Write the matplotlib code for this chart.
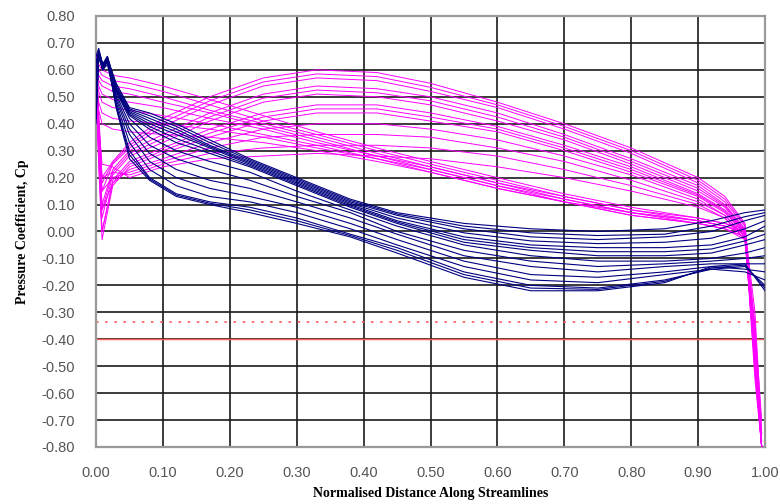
import matplotlib
matplotlib.use("Agg")
import matplotlib.pyplot as plt

# --- streamline data ---
mag_x = [0.0, 0.004, 0.009, 0.025, 0.05, 0.1, 0.17, 0.25, 0.33, 0.42, 0.5,
         0.6, 0.7, 0.8, 0.9, 0.94, 0.97, 0.985, 0.995]

# upper family: rises to a peak around x = 0.3 then falls away
mag_arcs = [
    [0.64, 0.45, 0.20, 0.26, 0.33, 0.42, 0.50, 0.57, 0.60, 0.59, 0.55, 0.48, 0.40, 0.31, 0.20, 0.13, 0.03, -0.40, -0.80],
    [0.635, 0.42, 0.18, 0.255, 0.32, 0.405, 0.485, 0.555, 0.585, 0.575, 0.535, 0.47, 0.39, 0.30, 0.19, 0.12, 0.025, -0.42, -0.80],
    [0.63, 0.40, 0.15, 0.25, 0.31, 0.39, 0.47, 0.54, 0.57, 0.56, 0.52, 0.46, 0.38, 0.29, 0.18, 0.11, 0.02, -0.45, -0.78],
    [0.62, 0.35, 0.10, 0.23, 0.30, 0.36, 0.44, 0.51, 0.54, 0.53, 0.50, 0.44, 0.36, 0.27, 0.17, 0.10, 0.01, -0.50, -0.80],
    [0.61, 0.33, 0.08, 0.22, 0.29, 0.345, 0.425, 0.495, 0.525, 0.515, 0.485, 0.425, 0.35, 0.26, 0.16, 0.095, 0.005, -0.52, -0.80],
    [0.60, 0.30, 0.05, 0.21, 0.28, 0.33, 0.41, 0.48, 0.51, 0.50, 0.47, 0.41, 0.34, 0.25, 0.15, 0.09, 0.00, -0.55, -0.80],
    [0.58, 0.28, 0.00, 0.19, 0.26, 0.31, 0.38, 0.44, 0.47, 0.47, 0.44, 0.39, 0.32, 0.24, 0.14, 0.08, 0.00, -0.40, -0.75],
    [0.56, 0.26, 0.00, 0.18, 0.25, 0.30, 0.365, 0.425, 0.455, 0.455, 0.425, 0.38, 0.31, 0.23, 0.135, 0.075, -0.005, -0.48, -0.80],
    [0.55, 0.25, -0.03, 0.17, 0.24, 0.29, 0.35, 0.41, 0.44, 0.44, 0.41, 0.37, 0.30, 0.22, 0.13, 0.07, -0.01, -0.45, -0.80],
    [0.52, 0.30, 0.08, 0.18, 0.23, 0.27, 0.33, 0.38, 0.40, 0.40, 0.38, 0.34, 0.28, 0.21, 0.12, 0.06, -0.02, -0.50, -0.80],
    [0.50, 0.35, 0.15, 0.20, 0.22, 0.26, 0.31, 0.35, 0.36, 0.36, 0.35, 0.31, 0.26, 0.19, 0.11, 0.06, -0.02, -0.35, -0.70],
    [0.48, 0.38, 0.20, 0.22, 0.21, 0.25, 0.29, 0.31, 0.32, 0.32, 0.31, 0.28, 0.23, 0.17, 0.10, 0.05, -0.03, -0.40, -0.80],
    [0.45, 0.40, 0.25, 0.24, 0.20, 0.24, 0.27, 0.28, 0.29, 0.28, 0.27, 0.24, 0.20, 0.15, 0.09, 0.05, -0.03, -0.45, -0.80],
]

# lower family: a near-straight band falling from 0.58 to 0.03
mag_band = [
    [0.66, 0.62, 0.60, 0.58, 0.57, 0.54, 0.49, 0.43, 0.37, 0.31, 0.26, 0.20, 0.14, 0.09, 0.05, 0.03, 0.01, -0.30, -0.75],
    [0.65, 0.60, 0.58, 0.56, 0.55, 0.52, 0.47, 0.41, 0.36, 0.30, 0.25, 0.19, 0.13, 0.08, 0.05, 0.03, 0.00, -0.35, -0.80],
    [0.63, 0.58, 0.56, 0.54, 0.53, 0.50, 0.45, 0.40, 0.35, 0.29, 0.24, 0.18, 0.13, 0.08, 0.04, 0.02, 0.00, -0.40, -0.80],
    [0.62, 0.56, 0.54, 0.52, 0.51, 0.48, 0.44, 0.39, 0.34, 0.28, 0.24, 0.18, 0.12, 0.07, 0.04, 0.02, -0.01, -0.45, -0.78],
    [0.60, 0.54, 0.51, 0.49, 0.48, 0.46, 0.42, 0.38, 0.33, 0.28, 0.23, 0.17, 0.12, 0.07, 0.04, 0.02, -0.01, -0.50, -0.80],
    [0.58, 0.52, 0.48, 0.46, 0.45, 0.43, 0.40, 0.36, 0.32, 0.27, 0.23, 0.17, 0.11, 0.07, 0.03, 0.01, -0.02, -0.38, -0.80],
    [0.56, 0.48, 0.44, 0.42, 0.41, 0.40, 0.38, 0.35, 0.31, 0.27, 0.22, 0.16, 0.11, 0.06, 0.03, 0.01, -0.02, -0.42, -0.80],
    [0.54, 0.45, 0.40, 0.38, 0.37, 0.36, 0.35, 0.33, 0.30, 0.26, 0.22, 0.16, 0.11, 0.06, 0.03, 0.01, -0.03, -0.46, -0.80],
]

navy_x = [0.0, 0.004, 0.01, 0.017, 0.03, 0.05, 0.08, 0.12, 0.17, 0.23, 0.3,
          0.38, 0.45, 0.55, 0.65, 0.75, 0.85, 0.92, 0.97, 1.0]

navy_lines = [
    [0.42, 0.66, 0.61, 0.64, 0.55, 0.46, 0.44, 0.40, 0.34, 0.27, 0.20, 0.12, 0.07, 0.03, 0.01, 0.00, 0.01, 0.04, 0.07, 0.08],
    [0.44, 0.66, 0.61, 0.64, 0.55, 0.455, 0.43, 0.39, 0.33, 0.265, 0.195, 0.115, 0.065, 0.02, -0.005, -0.015, -0.01, 0.02, 0.055, 0.07],
    [0.50, 0.67, 0.62, 0.65, 0.54, 0.45, 0.42, 0.38, 0.32, 0.26, 0.19, 0.11, 0.06, 0.01, -0.02, -0.03, -0.02, 0.00, 0.04, 0.06],
    [0.52, 0.67, 0.62, 0.65, 0.535, 0.445, 0.41, 0.37, 0.315, 0.255, 0.185, 0.105, 0.05, -0.005, -0.035, -0.045, -0.04, -0.025, 0.01, 0.04],
    [0.55, 0.66, 0.60, 0.64, 0.53, 0.44, 0.40, 0.36, 0.31, 0.25, 0.18, 0.10, 0.04, -0.02, -0.05, -0.06, -0.06, -0.05, -0.02, 0.02],
    [0.57, 0.66, 0.61, 0.64, 0.525, 0.435, 0.39, 0.345, 0.30, 0.245, 0.175, 0.095, 0.035, -0.03, -0.06, -0.075, -0.075, -0.065, -0.035, -0.01],
    [0.60, 0.66, 0.61, 0.63, 0.52, 0.43, 0.38, 0.33, 0.29, 0.24, 0.17, 0.09, 0.03, -0.04, -0.07, -0.09, -0.09, -0.08, -0.05, -0.03],
    [0.45, 0.65, 0.60, 0.64, 0.52, 0.42, 0.35, 0.30, 0.26, 0.22, 0.15, 0.08, 0.02, -0.05, -0.09, -0.11, -0.11, -0.10, -0.08, -0.06],
    [0.48, 0.66, 0.61, 0.63, 0.51, 0.40, 0.32, 0.27, 0.23, 0.19, 0.13, 0.07, 0.00, -0.07, -0.11, -0.13, -0.12, -0.11, -0.10, -0.09],
    [0.52, 0.65, 0.60, 0.63, 0.50, 0.38, 0.29, 0.23, 0.19, 0.16, 0.11, 0.05, -0.01, -0.09, -0.13, -0.15, -0.13, -0.12, -0.12, -0.12],
    [0.58, 0.66, 0.61, 0.64, 0.49, 0.36, 0.26, 0.20, 0.16, 0.13, 0.09, 0.03, -0.03, -0.11, -0.16, -0.17, -0.15, -0.13, -0.14, -0.15],
    [0.40, 0.65, 0.60, 0.62, 0.48, 0.33, 0.23, 0.17, 0.13, 0.11, 0.07, 0.01, -0.05, -0.13, -0.18, -0.19, -0.16, -0.14, -0.15, -0.18],
    [0.62, 0.67, 0.62, 0.63, 0.47, 0.30, 0.20, 0.14, 0.11, 0.09, 0.05, -0.01, -0.06, -0.15, -0.20, -0.21, -0.18, -0.14, -0.13, -0.20],
    [0.63, 0.67, 0.62, 0.64, 0.465, 0.285, 0.195, 0.135, 0.105, 0.08, 0.04, -0.015, -0.07, -0.16, -0.21, -0.215, -0.185, -0.135, -0.125, -0.21],
    [0.65, 0.68, 0.62, 0.64, 0.46, 0.27, 0.19, 0.13, 0.10, 0.07, 0.03, -0.02, -0.08, -0.17, -0.22, -0.22, -0.19, -0.13, -0.12, -0.22],
]

cp_limit_solid = -0.40
cp_limit_dotted = -0.335

x_ticks = [0.0, 0.1, 0.2, 0.3, 0.4, 0.5, 0.6, 0.7, 0.8, 0.9, 1.0]
x_labels = ["0.00", "0.10", "0.20", "0.30", "0.40", "0.50", "0.60", "0.70", "0.80", "0.90", "1.00"]
y_ticks = [0.8, 0.7, 0.6, 0.5, 0.4, 0.3, 0.2, 0.1, 0.0, -0.1, -0.2, -0.3, -0.4, -0.5, -0.6, -0.7, -0.8]
y_labels = ["0.80", "0.70", "0.60", "0.50", "0.40", "0.30", "0.20", "0.10", "0.00", "-0.10", "-0.20",
            "-0.30", "-0.40", "-0.50", "-0.60", "-0.70", "-0.80"]


def main():
    fig = plt.figure(figsize=(7.8, 5.04), dpi=100)
    ax = fig.add_axes([0.1231, 0.1131, 0.8577, 0.8552])

    for y in mag_arcs + mag_band:
        ax.plot(mag_x, y, color="#ff00ff", lw=0.7, zorder=3)
    for y in navy_lines:
        ax.plot(navy_x, y, color="#000080", lw=0.8, zorder=4)

    ax.axhline(cp_limit_solid, color="#ff5a5a", lw=1.0, zorder=2)
    ax.axhline(cp_limit_dotted, color="#ff5a5a", lw=1.2, ls=(0, (1.5, 4)), zorder=2)

    ax.set_xlim(0, 1.0)
    ax.set_ylim(-0.8, 0.8)
    ax.set_xticks(x_ticks)
    ax.set_xticklabels(x_labels)
    ax.set_yticks(y_ticks)
    ax.set_yticklabels(y_labels)
    ax.grid(True, color="#1a1a1a", lw=1.2, zorder=1)
    ax.set_axisbelow(True)
    ax.tick_params(length=0, labelsize=10.5, labelcolor="#555555")
    ax.tick_params(axis="y", pad=15)
    ax.tick_params(axis="x", pad=14)
    for lab in ax.get_xticklabels() + ax.get_yticklabels():
        lab.set_family("Liberation Sans")
    for s in ax.spines.values():
        s.set_color("#9a9a9a")
        s.set_linewidth(1.6)

    ax.set_xlabel("Normalised Distance Along Streamlines", family="Liberation Serif",
                  weight="bold", fontsize=10, labelpad=5)
    ax.set_ylabel("Pressure Coefficient, Cp", family="Liberation Serif",
                  weight="bold", fontsize=10, labelpad=9)

    fig.savefig("out.png", dpi=100)
    plt.close(fig)


if __name__ == "__main__":
    main()
